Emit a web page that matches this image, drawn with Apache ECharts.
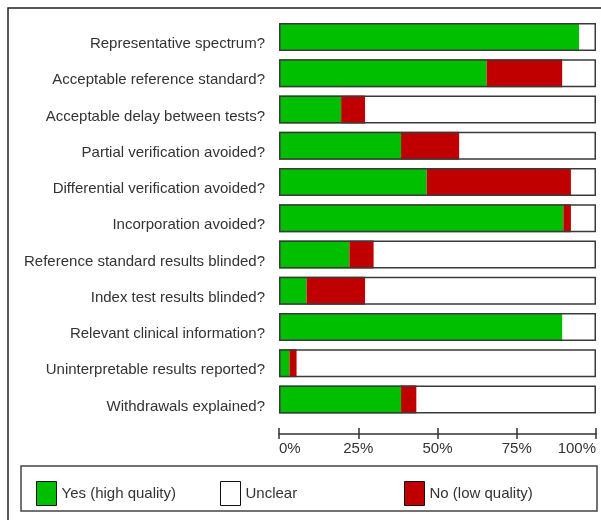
<!DOCTYPE html>
<html><head><meta charset="utf-8">
<script src="https://cdn.jsdelivr.net/npm/echarts@6/dist/echarts.min.js"></script>
<style>html,body{margin:0;padding:0;background:#fff}#c{width:601px;height:520px}</style>
</head><body><div id="c"></div>
<script>
const categories = [
  'Representative spectrum?',
  'Acceptable reference standard?',
  'Acceptable delay between tests?',
  'Partial verification avoided?',
  'Differential verification avoided?',
  'Incorporation avoided?',
  'Reference standard results blinded?',
  'Index test results blinded?',
  'Relevant clinical information?',
  'Uninterpretable results reported?',
  'Withdrawals explained?'
];
const yesHigh = [94.7, 65.5, 19.6, 38.5, 46.6, 89.7, 22.2, 8.7, 89.4, 3.3, 38.5];
const noLow   = [0, 23.9, 7.6, 18.4, 45.5, 2.4, 7.7, 18.5, 0, 2.3, 4.9];
const unclear = [5.3, 10.6, 72.8, 43.1, 7.9, 7.9, 70.1, 72.8, 10.6, 94.4, 56.6];
const frameVals = [100, 100, 100, 100, 100, 100, 100, 100, 100, 100, 100];
const tickValues = [0, 25, 50, 75, 100];

const FONT = '"Liberation Sans", Arial, sans-serif';
const FS = 15;
const TXT = '#333';
const chart = echarts.init(document.getElementById('c'), null, {renderer: 'canvas'});

const legendBase = {
  top: 476, itemWidth: 20, itemHeight: 24, itemGap: 4,
  textStyle: {fontFamily: FONT, fontSize: FS, color: TXT},
  selectedMode: false
};

chart.setOption({
  animation: false,
  textStyle: {fontFamily: FONT},
  graphic: [
    {type: 'rect', shape: {x: 8, y: 8, width: 700, height: 600}, style: {fill: 'none', stroke: '#222', lineWidth: 1.5}, silent: true},
    {type: 'rect', shape: {x: 21, y: 466, width: 576, height: 45}, style: {fill: 'none', stroke: '#444', lineWidth: 1.5}, silent: true}
  ],
  legend: [
    Object.assign({}, legendBase, {left: 31, data: [{name: 'Yes (high quality)', icon: 'rect', itemStyle: {borderColor: '#111', borderWidth: 1}}]}),
    Object.assign({}, legendBase, {left: 215, data: [{name: 'Unclear', icon: 'rect', itemStyle: {borderColor: '#111', borderWidth: 1}}]}),
    Object.assign({}, legendBase, {left: 399, data: [{name: 'No (low quality)', icon: 'rect', itemStyle: {borderColor: '#111', borderWidth: 1}}]})
  ],
  grid: {left: 279, right: 5, top: 19, bottom: 102.5, containLabel: false, outerBoundsMode: 'none'},
  xAxis: [{
    type: 'value', min: 0, max: 100, interval: 25, position: 'bottom', offset: 16,
    axisLine: {show: true, lineStyle: {color: '#333', width: 1.5}},
    axisTick: {show: true, length: 5.5, lineStyle: {color: '#333', width: 1.5}},
    axisLabel: {formatter: '{value}%', fontFamily: FONT, fontSize: FS, color: TXT, margin: 8, alignMinLabel: 'left', alignMaxLabel: 'right'},
    splitLine: {show: false}
  }, {
    type: 'value', min: 0, max: 100, interval: 25, position: 'bottom', offset: 16,
    axisLine: {show: false},
    axisTick: {show: true, inside: true, length: 5.5, lineStyle: {color: '#333', width: 1.5}},
    axisLabel: {show: false},
    splitLine: {show: false}
  }],
  yAxis: {
    type: 'category', data: categories, inverse: true,
    axisLine: {show: false}, axisTick: {show: false},
    axisLabel: {fontFamily: FONT, fontSize: FS, color: TXT, margin: 14, verticalAlign: 'top', lineHeight: 14}
  },
  series: [
    {name: 'Yes (high quality)', type: 'bar', stack: 'q', data: yesHigh, barWidth: 28,
     itemStyle: {color: '#00BF00'}, silent: true},
    {name: 'No (low quality)', type: 'bar', stack: 'q', data: noLow, barWidth: 28,
     itemStyle: {color: '#C00000'}, silent: true},
    {name: 'Unclear', type: 'bar', stack: 'q', data: unclear, barWidth: 28,
     itemStyle: {color: '#FFFFFF'}, silent: true},
    {name: 'frame', type: 'bar', data: frameVals, barWidth: 28, barGap: '-100%', z: 5,
     itemStyle: {color: 'rgba(0,0,0,0)', borderColor: '#3a3a3a', borderWidth: 1.5}, silent: true}
  ]
});
</script></body></html>
